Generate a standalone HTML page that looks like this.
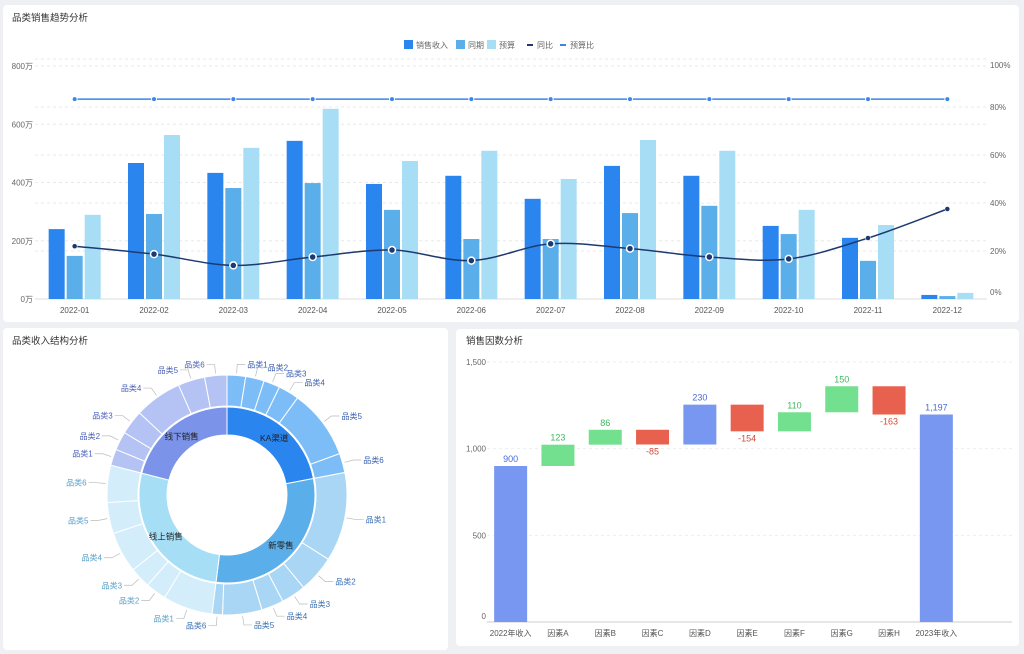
<!DOCTYPE html>
<html><head><meta charset="utf-8">
<style>
body{margin:0;width:1024px;height:654px;background:#eef0f4;font-family:"Liberation Sans","Noto Sans CJK SC",sans-serif;overflow:hidden;position:relative}
.panel{position:absolute;background:#fff;border-radius:4px}
svg{position:absolute;left:0;top:0}
text{font-family:"Liberation Sans","Noto Sans CJK SC",sans-serif}
</style></head>
<body>
<div class="panel" style="left:3px;top:5px;width:1016px;height:317px"></div>
<div class="panel" style="left:3px;top:328px;width:445px;height:322px"></div>
<div class="panel" style="left:456px;top:329px;width:563px;height:317px"></div>
<svg id="s" width="1024" height="654"></svg>
<script>
// ---- trend chart data ----
const months=["2022-01","2022-02","2022-03","2022-04","2022-05","2022-06","2022-07","2022-08","2022-09","2022-10","2022-11","2022-12"];
const revenue=[240,467,433,543,395,423,344,457,423,251,210,14];
const lastYear=[148,292,381,398,306,206,206,295,320,223,131,10];
const budget=[289,563,519,653,474,509,412,546,509,306,254,21];
const yoy=[22,18.7,14,17.5,20.4,16,23,21,17.5,16.7,25.4,37.5];
const budgetRatio=[83.3,83.3,83.3,83.3,83.3,83.3,83.3,83.3,83.3,83.3,83.3,83.3];
const leftTicks=["0万","200万","400万","600万","800万"];
const rightTicks=["0%","20%","40%","60%","80%","100%"];
// ---- donut data ----
const groups=["KA渠道","新零售","线上销售","线下销售"];
const groupValues=[22,30,27,21];
const subNames=["品类1","品类2","品类3","品类4","品类5","品类6"];
const subValues=[[2.5,2.5,2.2,2.8,9.4,2.6],[12,5,3.3,3,5.3,1.4],[6.7,2.8,2.8,5.5,4.2,5],[2.2,2.5,3.3,6.4,3.6,3]];
// ---- waterfall data ----
const wfCats=["2022年收入","因素A","因素B","因素C","因素D","因素E","因素F","因素G","因素H","2023年收入"];
const wfDeltas=[900,123,86,-85,230,-154,110,150,-163,1197];
const wfTicks=[0,500,1000,1500];

const S=document.getElementById('s');const NS="http://www.w3.org/2000/svg";
function mk(tag,attrs,parent){const e=document.createElementNS(NS,tag);for(const k in attrs)e.setAttribute(k,attrs[k]);(parent||S).appendChild(e);return e;}
function tx(x,y,str,size,fill,anchor){const t=mk('text',{x:x,y:y,'font-size':size,fill:fill,'text-anchor':anchor||'start'});t.textContent=str;return t;}

let t=tx(12,21,"品类销售趋势分析",9.5,"#333");

t=tx(12,344,"品类收入结构分析",9.5,"#333");

t=tx(466,344,"销售因数分析",9.5,"#333");


// ---- trend chart ----
const X0=35,X1=987,Y0=299,YT=66;
const step=(X1-X0)/months.length;
const xc=i=>X0+step*(i+0.5);
const yl=v=>Y0-(v/800)*(Y0-YT);
const yr=v=>Y0-(v/100)*(Y0-59);
leftTicks.forEach((l,i)=>{const y=yl(i*200);
 if(i>0){const g=mk('line',{x1:X0,x2:X1,y1:y,y2:y,stroke:'#e6e8ec','stroke-dasharray':'3,3'});
 }
 const tt=tx(33,y+3,l,8,'#666','end');});
rightTicks.forEach((l,i)=>{const y=yr(i*20);
 if(i>0){const g=mk('line',{x1:X0,x2:X1,y1:y,y2:y,stroke:'#e6e8ec','stroke-dasharray':'3,3'});
 }
 const ly=i==0?295:(i==5?68:y+3);
 const tt=tx(990,ly,l,8,'#666');});
let ax=mk('line',{x1:X0,x2:X1,y1:Y0,y2:Y0,stroke:'#ddd'});

const series=[[revenue,'#2b85ee',-18,'revenue-bar'],[lastYear,'#5aaeea',0,'last-year-bar'],[budget,'#a8def5',18,'budget-bar']];
months.forEach((m,i)=>{
 series.forEach(s=>{const v=s[0][i];const r=mk('rect',{x:xc(i)+s[2]-8,y:yl(v),width:16,height:Y0-yl(v),fill:s[1]});
  });
 const tt=tx(xc(i),313,m,8,'#555','middle');
});
let pts=budgetRatio.map((v,i)=>[xc(i),yr(v)]);
let bl=mk('polyline',{points:pts.map(p=>p.join(',')).join(' '),fill:'none',stroke:'#3a86e6','stroke-width':1.5});

pts.forEach(p=>{const c=mk('circle',{cx:p[0],cy:p[1],r:2.5,fill:'#3a86e6',stroke:'#fff','stroke-width':1});
 });
pts=yoy.map((v,i)=>[xc(i),yr(v)]);
let d='M'+pts[0].join(',');
for(let i=0;i<pts.length-1;i++){const p0=pts[Math.max(0,i-1)],p1=pts[i],p2=pts[i+1],p3=pts[Math.min(pts.length-1,i+2)];
 const c1=[p1[0]+(p2[0]-p0[0])/6,p1[1]+(p2[1]-p0[1])/6],c2=[p2[0]-(p3[0]-p1[0])/6,p2[1]-(p3[1]-p1[1])/6];
 d+=' C'+c1.join(',')+' '+c2.join(',')+' '+p2.join(',');}
let yl2=mk('path',{d:d,fill:'none',stroke:'#1c3a70','stroke-width':1.5});

pts.forEach((p,i)=>{const big=!(i==0||i==10||i==11);
 const c=mk('circle',{cx:p[0],cy:p[1],r:big?3.5:2.5,fill:'#1c3a70',stroke:'#fff','stroke-width':big?1.5:0.5});
 });
const leg=[['rect',404,'#2b85ee','销售收入'],['rect',456,'#5aaeea','同期'],['rect',487,'#a8def5','预算'],['line',527,'#1c3a70','同比'],['line',560,'#3a86e6','预算比']];
leg.forEach(l=>{const g=mk('g',{});
 if(l[0]=='rect')mk('rect',{x:l[1],y:40,width:9,height:9,fill:l[2]},g);else mk('rect',{x:l[1],y:44,width:6,height:2,fill:l[2]},g);
 const tt=mk('text',{x:l[1]+(l[0]=='rect'?12:10),y:48,'font-size':8,fill:'#666'},g);tt.textContent=l[3];});

// ---- donut ----
const CX=227,CY=495;
const inCol=['#2b85ee','#5aaeea','#a6def5','#7b93e8'];
const outCol=['#7dbdf7','#a9d6f5','#d3edfb','#b4c3f3'];
const labCol=['#3a5fb0','#3a6fb5','#5aa0c8','#4a5fb8'];
function arc(r0,r1,a0,a1){const f=a=>(a-90)*Math.PI/180;const p=(r,a)=>[CX+r*Math.cos(f(a)),CY+r*Math.sin(f(a))];
 const la=(a1-a0)>180?1:0;const A=p(r1,a0),B=p(r1,a1),C=p(r0,a1),D=p(r0,a0);
 return `M${A} A${r1},${r1} 0 ${la} 1 ${B} L${C} A${r0},${r0} 0 ${la} 0 ${D}Z`;}
const tot=groupValues.reduce((a,b)=>a+b,0);
let ang=0;
groups.forEach((g,gi)=>{const span=groupValues[gi]/tot*360;
 const p=mk('path',{d:arc(60,88,ang,ang+span),fill:inCol[gi],stroke:'#fff','stroke-width':1});
 
 const mid=(ang+span/2-90)*Math.PI/180;
 const tt=tx(CX+74*Math.cos(mid),CY+74*Math.sin(mid)+3,g,8.5,'#222','middle');
 
 const st=subValues[gi].reduce((a,b)=>a+b,0);let a=ang;
 subValues[gi].forEach((v,si)=>{const sp=v/st*span;
  const q=mk('path',{d:arc(89,120,a,a+sp),fill:outCol[gi],stroke:'#fff','stroke-width':1});
  
  const m=(a+sp/2-90)*Math.PI/180;const cs=Math.cos(m),sn=Math.sin(m);
  const x1=CX+122*cs,y1=CY+122*sn,x2=CX+131*cs,y2=CY+131*sn,x3=x2+(cs>=0?8:-8);
  const ln=mk('polyline',{points:`${x1},${y1} ${x2},${y2} ${x3},${y2}`,fill:'none',stroke:'#bbb','stroke-width':0.7});
  
  const lt=tx(x3+(cs>=0?2:-2),y2+3,subNames[si],8,labCol[gi],cs>=0?'start':'end');
  
  a+=sp;});
 ang+=span;});

// ---- waterfall ----
const WX0=487,WX1=960,WY0=622,WYT=362;
const wy=v=>WY0-v/1500*(WY0-WYT);
const wstep=(WX1-WX0)/wfCats.length;
const wx=i=>WX0+wstep*(i+0.5);
wfTicks.forEach(v=>{const y=wy(v);
 if(v>0){const g=mk('line',{x1:WX0,x2:1012,y1:y,y2:y,stroke:'#eceef2','stroke-dasharray':'3,3'});
 }
 const tt=tx(486,y+(v==0?-3:3),v.toLocaleString('en-US'),8,'#666','end');
 });
ax=mk('line',{x1:WX0,x2:1012,y1:WY0,y2:WY0,stroke:'#ccc'});

let run=0;
wfCats.forEach((c,i)=>{const v=wfDeltas[i];let lo,hi,col,lc;
 if(i==0||i==wfCats.length-1){lo=0;hi=v;run=v;col='#7897f0';lc='#4a6ad8';}
 else if(i==4){lo=run;hi=run+v;run=hi;col='#7897f0';lc='#4a6ad8';}
 else if(v>=0){lo=run;hi=run+v;run=hi;col='#72e08f';lc='#3cb95e';}
 else{hi=run;lo=run+v;run=lo;col='#e8614e';lc='#d04a38';}
 const r=mk('rect',{x:wx(i)-16.5,y:wy(hi),width:33,height:wy(lo)-wy(hi),fill:col});
 
 const lab=v.toLocaleString('en-US');
 const tt=v>=0?tx(wx(i),wy(hi)-4,lab,9,lc,'middle'):tx(wx(i),wy(lo)+10,lab,9,lc,'middle');
 
 const xl=tx(wx(i),636,c,8,'#555','middle');
 });
</script>
</body></html>
